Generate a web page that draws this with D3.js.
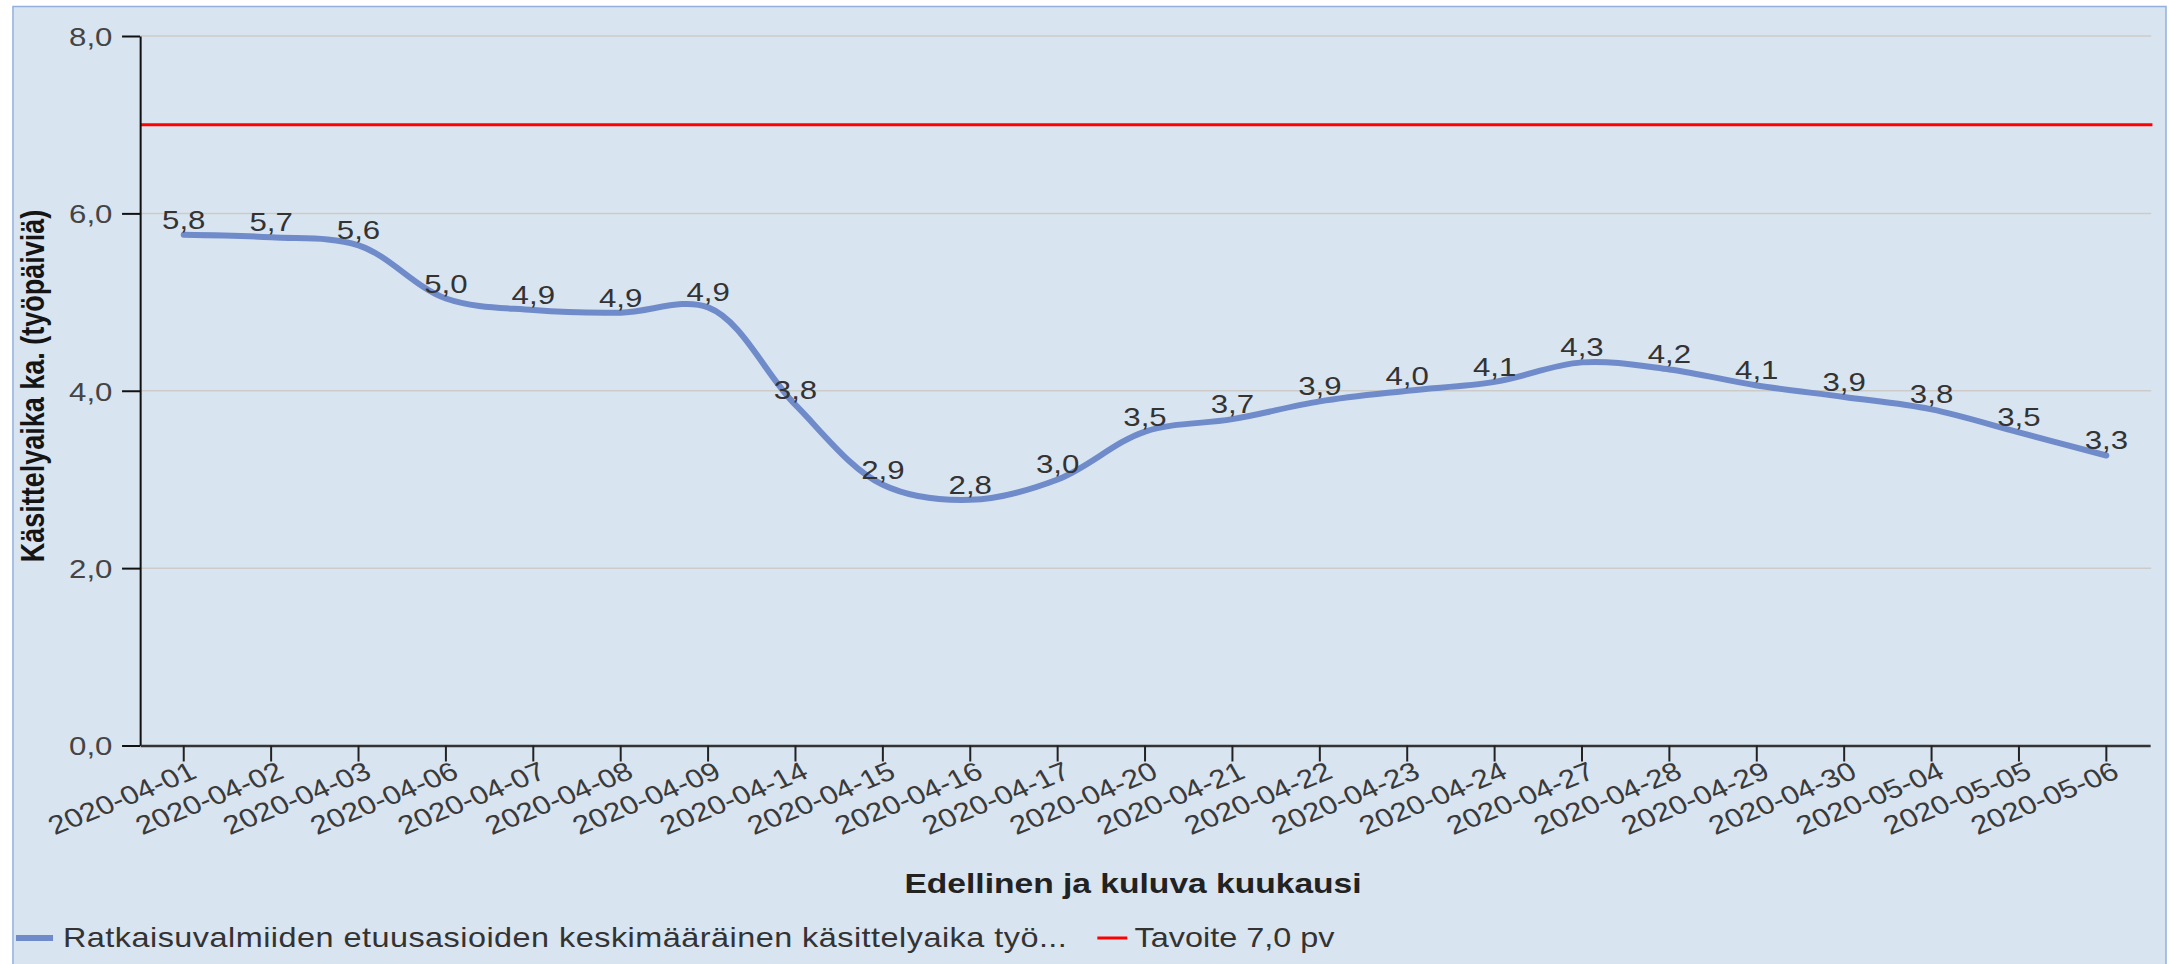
<!DOCTYPE html>
<html lang="fi">
<head>
<meta charset="UTF-8">
<title>Käsittelyaika</title>
<script src="https://d3js.org/d3.v7.min.js"></script>
<style>
  body { margin: 0; background: #fff; }
  svg { display: block; }
  text { font-family: "Liberation Sans", Arial, sans-serif; }
  line, path, rect { vector-effect: non-scaling-stroke; }
</style>
</head>
<body>
<svg width="2169" height="964"></svg>
<script>
const dates = ["2020-04-01", "2020-04-02", "2020-04-03", "2020-04-06", "2020-04-07", "2020-04-08",
  "2020-04-09", "2020-04-14", "2020-04-15", "2020-04-16", "2020-04-17", "2020-04-20", "2020-04-21",
  "2020-04-22", "2020-04-23", "2020-04-24", "2020-04-27", "2020-04-28", "2020-04-29", "2020-04-30",
  "2020-05-04", "2020-05-05", "2020-05-06"];
const values = [5.76, 5.73, 5.64, 5.04, 4.91, 4.88, 4.94, 3.84, 2.94, 2.77, 3.0, 3.54, 3.68,
  3.88, 4.0, 4.1, 4.32, 4.24, 4.06, 3.93, 3.79, 3.53, 3.27];
const target = 7.0;
const yTicks = [0, 2, 4, 6, 8];
const seriesName = "Ratkaisuvalmiiden etuusasioiden keskimääräinen käsittelyaika työ...";
const targetName = "Tavoite 7,0 pv";
const xTitle = "Edellinen ja kuluva kuukausi";
const yTitle = "Käsittelyaika ka. (työpäiviä)";

// the source picture is stretched sideways, so draw narrower and stretch the whole group
const SX = 1.2;
const plotL = 116.7, plotR = 1791.7, plotT = 36, plotB = 745.5;

const fi = d3.formatLocale({decimal: ",", thousands: " ", grouping: [3], currency: ["", " €"]});
const fmt = fi.format(".1f");

const svg = d3.select("svg");
const g = svg.append("g").attr("transform", "scale(" + SX + ",1)");

// panel background
g.append("rect")
  .attr("x", 10.8).attr("y", 6.5)
  .attr("width", 1805 - 10.8).attr("height", 964)
  .attr("fill", "#d9e4f1")
  .attr("stroke", "#93b0dc").attr("stroke-width", 1.5);

const x = d3.scaleBand().domain(dates).range([plotL, plotR]).padding(0);
const y = d3.scaleLinear().domain([0, 8]).range([plotB, plotT]);
const cx = d => x(d) + x.bandwidth() / 2;

// gridlines
g.selectAll(".grid")
  .data(yTicks.filter(d => d > 0))
  .enter().append("line")
  .attr("x1", plotL).attr("x2", plotR + 1)
  .attr("y1", d => y(d)).attr("y2", d => y(d))
  .attr("stroke", "#cdcbc8").attr("stroke-width", 1.5);

// target line
g.append("line")
  .attr("x1", plotL).attr("x2", plotR + 2)
  .attr("y1", y(target)).attr("y2", y(target))
  .attr("stroke", "#ff0000").attr("stroke-width", 3);

// y axis
const yAxis = g.append("g")
  .attr("transform", "translate(" + plotL + ",0)")
  .call(d3.axisLeft(y).tickValues(yTicks).tickSize(15).tickSizeOuter(0).tickPadding(8).tickFormat(fmt));
yAxis.select(".domain").attr("stroke", "#111").attr("stroke-width", 2);
yAxis.selectAll(".tick line").attr("stroke", "#111").attr("stroke-width", 2);
yAxis.selectAll(".tick text")
  .attr("font-size", 26).attr("font-family", "Liberation Sans, Arial, sans-serif")
  .attr("fill", "#444").attr("dy", "0.36em");

// x axis
const xAxis = g.append("g")
  .attr("transform", "translate(0," + plotB + ")")
  .call(d3.axisBottom(x).tickSize(16).tickSizeOuter(0));
xAxis.select(".domain").attr("stroke", "#333").attr("stroke-width", 2.5);
xAxis.selectAll(".tick line").attr("stroke", "#222").attr("stroke-width", 2);
xAxis.selectAll(".tick text")
  .attr("font-size", 26).attr("font-family", "Liberation Sans, Arial, sans-serif")
  .attr("fill", "#3a3a3a")
  .attr("x", 0).attr("y", 0).attr("dy", "0.71em")
  .attr("text-anchor", "end")
  .attr("transform", "translate(4,15) rotate(-26)");

// series line
const line = d3.line()
  .x((d, i) => cx(dates[i]))
  .y(d => y(d))
  .curve(d3.curveCatmullRom);

g.append("path")
  .datum(values)
  .attr("d", line)
  .attr("fill", "none")
  .attr("stroke", "#6f8bca")
  .attr("stroke-width", 6)
  .attr("stroke-linecap", "round");

// value labels
g.selectAll(".lbl")
  .data(values)
  .enter().append("text")
  .attr("x", (d, i) => cx(dates[i]))
  .attr("y", d => y(d) - 6)
  .attr("text-anchor", "middle")
  .attr("font-size", 26)
  .attr("fill", "#333")
  .text(d => fmt(d));

// axis titles
g.append("text")
  .attr("x", (plotL + plotR) / 2 - 10).attr("y", 893)
  .attr("text-anchor", "middle")
  .attr("font-size", 28).attr("font-weight", "bold")
  .attr("fill", "#222")
  .text(xTitle);

g.append("text")
  .attr("transform", "translate(36.7,386) rotate(-90)")
  .attr("text-anchor", "middle")
  .attr("font-size", 27).attr("font-weight", "bold")
  .attr("fill", "#151515")
  .text(yTitle);

// legend
const legY = 938;
g.append("line")
  .attr("x1", 13.3).attr("x2", 44.2).attr("y1", legY).attr("y2", legY)
  .attr("stroke", "#6f8bca").attr("stroke-width", 6);
const t1 = g.append("text")
  .attr("x", 52.5).attr("y", legY + 9.5)
  .attr("font-size", 27).attr("fill", "#333")
  .attr("letter-spacing", 0.4)
  .text(seriesName);
const redStart = 52.5 + t1.node().getComputedTextLength() + 25;
g.append("line")
  .attr("x1", redStart).attr("x2", redStart + 25).attr("y1", legY).attr("y2", legY)
  .attr("stroke", "#ff0000").attr("stroke-width", 3);
g.append("text")
  .attr("x", redStart + 31).attr("y", legY + 9.5)
  .attr("font-size", 27).attr("fill", "#333")
  .text(targetName);
</script>
</body>
</html>
